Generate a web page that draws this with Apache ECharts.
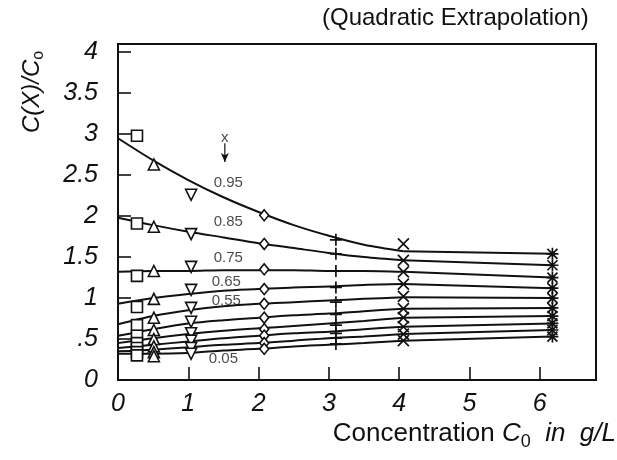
<!DOCTYPE html>
<html><head><meta charset="utf-8">
<script src="https://cdn.jsdelivr.net/npm/echarts@6/dist/echarts.min.js"></script>
<style>html,body{margin:0;padding:0;background:#fff}#c{width:617px;height:460px}</style>
</head><body><div id="c"></div>
<script>
// Curve labels (x values)
const curveNames = ['0.95','0.85','0.75','0.65','0.55','0.45','0.35','0.25','0.15','0.05'];
// Quadratic fitted curves read at these concentrations (0 .. 4.06)
const fitC = [0, 0.5, 1, 1.5, 2, 2.5, 3, 3.5, 4.06];
const fit095 = [2.95, 2.68, 2.44, 2.23, 2.05, 1.89, 1.76, 1.65, 1.57];
const fit085 = [1.98, 1.89, 1.81, 1.74, 1.67, 1.61, 1.55, 1.50, 1.46];
const fit075 = [1.32, 1.33, 1.33, 1.34, 1.34, 1.34, 1.33, 1.33, 1.32];
const fit065 = [0.93, 1.00, 1.05, 1.09, 1.11, 1.13, 1.14, 1.16, 1.17];
const fit055 = [0.68, 0.78, 0.85, 0.90, 0.93, 0.95, 0.97, 0.99, 1.01];
const fit045 = [0.54, 0.62, 0.69, 0.73, 0.76, 0.79, 0.81, 0.84, 0.87];
const fit035 = [0.45, 0.51, 0.56, 0.60, 0.63, 0.66, 0.69, 0.72, 0.76];
const fit025 = [0.39, 0.43, 0.47, 0.51, 0.54, 0.57, 0.59, 0.62, 0.65];
const fit015 = [0.35, 0.37, 0.40, 0.43, 0.45, 0.48, 0.51, 0.53, 0.56];
const fit005 = [0.32, 0.32, 0.33, 0.36, 0.38, 0.41, 0.43, 0.45, 0.48];
// straight tail segments from C=4.06 to C=6.18
const tailC = [4.06, 6.18];
const tailEnd = [1.54, 1.40, 1.25, 1.12, 1.00, 0.88, 0.78, 0.69, 0.61, 0.53];
// measured points (per marker type), ordered 0.95 ... 0.05
const squareC = 0.27;
const squareV = [2.98, 1.91, 1.27, 0.89, 0.67, 0.54, 0.45, 0.39, 0.34, 0.30];
const triUpC = 0.51;
const triUpV = [2.63, 1.87, 1.33, 0.99, 0.76, 0.61, 0.50, 0.41, 0.34, 0.29];
const triDownC = 1.04;
const triDownV = [2.26, 1.78, 1.38, 1.10, 0.88, 0.71, 0.57, 0.48, 0.39, 0.32];
const diamondC = 2.08;
const diamondV = [2.01, 1.66, 1.35, 1.11, 0.93, 0.76, 0.62, 0.54, 0.45, 0.38];
const plusC = 3.1;
const plusV = [1.71, 1.54, 1.33, 1.13, 0.95, 0.80, 0.67, 0.57, 0.51, 0.44];
const crossC = 4.06;
const crossV = [1.66, 1.46, 1.32, 1.17, 1.02, 0.87, 0.76, 0.65, 0.56, 0.48];
const starC = 6.18;
const starV = [1.54, 1.40, 1.25, 1.12, 1.00, 0.88, 0.78, 0.69, 0.61, 0.53];
// annotation labels
const annoText = ['0.95','0.85','0.75','0.65','0.55','0.05','x'];
const annoC = [1.57, 1.57, 1.57, 1.54, 1.54, 1.5, 1.52];
const annoV = [2.41, 1.93, 1.49, 1.20, 0.96, 0.26, 2.96];
const arrowC = 1.52;
const arrowV = [2.89, 2.66];
// axis ticks
const xTicks = [0, 1, 2, 3, 4, 5, 6];
const yTicks = [0, 0.5, 1, 1.5, 2, 2.5, 3, 3.5, 4];

const fits = [fit095, fit085, fit075, fit065, fit055, fit045, fit035, fit025, fit015, fit005];
const INK = '#111';
const series = [];
fits.forEach((vals, i) => {
  series.push({
    type: 'line', name: 'fit ' + curveNames[i], smooth: 0.3,
    symbol: 'none', lineStyle: {color: INK, width: 2}, silent: true,
    data: fitC.map((c, k) => [c, vals[k]])
  });
  series.push({
    type: 'line', name: 'tail ' + curveNames[i], symbol: 'none', silent: true,
    lineStyle: {color: INK, width: 2},
    data: [[tailC[0], vals[vals.length - 1]], [tailC[1], tailEnd[i]]]
  });
});
function markerSeries(c, vals, symbol, size, rotate, sw) {
  return {
    type: 'scatter', symbol: symbol, symbolSize: size, symbolRotate: rotate || 0,
    itemStyle: {color: '#fff', borderColor: INK, borderWidth: sw || 1.6, opacity: 1},
    data: vals.map(v => [c, v]), z: 5
  };
}
function strokeSeries(c, vals, path, size) {
  return {
    type: 'scatter', symbol: path, symbolSize: size,
    itemStyle: {color: 'none', borderColor: INK, borderWidth: 1.7, opacity: 1},
    data: vals.map(v => [c, v]), z: 5
  };
}
series.push(markerSeries(squareC, squareV, 'rect', 11));
series.push(markerSeries(triUpC, triUpV, 'triangle', 11));
series.push(markerSeries(triDownC, triDownV, 'triangle', 11, 180));
series.push(markerSeries(diamondC, diamondV, 'diamond', [9, 11]));
series.push(strokeSeries(plusC, plusV, 'path://M0,0L0,10M-5,5L5,5', 12));
series.push(strokeSeries(crossC, crossV, 'path://M0,0L10,10M0,10L10,0', 11));
series.push(strokeSeries(starC, starV, 'path://M0,0L10,10M0,10L10,0M5,-1L5,11M-1,5L11,5', 12));
// arrow
series.push({
  type: 'line', symbol: (v, p) => p.dataIndex === 1 ? 'arrow' : 'none', symbolSize: [6, 9],
  symbolRotate: 180, itemStyle: {color: INK}, lineStyle: {color: INK, width: 1.2},
  data: arrowV.map(v => [arrowC, v]), silent: true
});
// annotations
series.push({
  type: 'scatter', symbol: 'circle', symbolSize: 1, silent: true, z: 6,
  itemStyle: {color: 'rgba(0,0,0,0)'},
  data: annoText.map((t, i) => ({value: [annoC[i], annoV[i]], name: t})),
  label: {show: true, position: 'inside', formatter: p => p.name, color: '#1a1a1a',
    fontFamily: 'Liberation Sans', fontSize: 15}
});

const chart = echarts.init(document.getElementById('c'));
chart.setOption({
  animation: false,
  backgroundColor: '#fff',
  grid: {left: 118, right: 21, top: 44, bottom: 80, show: true, borderColor: INK, borderWidth: 2},
  xAxis: {
    type: 'value', min: 0, max: 6.8, interval: 1,
    axisLine: {show: true, lineStyle: {color: INK, width: 2}},
    axisTick: {show: true, inside: true, length: 13, customValues: xTicks, lineStyle: {color: INK, width: 1.6}},
    axisLabel: {customValues: xTicks, margin: 12, fontFamily: 'Liberation Sans', fontStyle: 'italic', fontSize: 25, color: '#111'},
    splitLine: {show: false}
  },
  yAxis: {
    type: 'value', min: 0, max: 4.1, interval: 0.5,
    axisLine: {show: true, lineStyle: {color: INK, width: 2}},
    axisTick: {show: true, inside: true, length: 13, customValues: yTicks, lineStyle: {color: INK, width: 1.6}},
    axisLabel: {customValues: yTicks, margin: 20, fontFamily: 'Liberation Sans', fontStyle: 'italic', fontSize: 25, color: '#111',
      formatter: v => v === 0.5 ? '.5' : String(v)},
    splitLine: {show: false}
  },
  graphic: [
    {type: 'text', left: 322, top: 6, style: {text: '(Quadratic Extrapolation)', fontFamily: 'Liberation Sans', fontSize: 24, fill: '#111'}},
    {type: 'text', x: 32, y: 92, rotation: Math.PI / 2,
      style: {text: '{a|C(X)/C}{s|o}', align: 'center', verticalAlign: 'middle', fill: '#111',
        rich: {a: {fontFamily: 'Liberation Sans', fontStyle: 'italic', fontSize: 24, lineHeight: 30, fill: '#111'},
               s: {fontFamily: 'Liberation Sans', fontSize: 16, lineHeight: 18, verticalAlign: 'bottom', fill: '#111'}}}},
    {type: 'text', right: 1, top: 421,
      style: {text: '{n|Concentration }{i|C}{s|0}{i|  in  g/L}', fill: '#111',
        rich: {n: {fontFamily: 'Liberation Sans', fontSize: 26, lineHeight: 34, fill: '#111'},
               i: {fontFamily: 'Liberation Sans', fontStyle: 'italic', fontSize: 26, lineHeight: 34, fill: '#111'},
               s: {fontFamily: 'Liberation Sans', fontSize: 18, lineHeight: 20, verticalAlign: 'bottom', fill: '#111'}}}}
  ],
  series: series
});
</script></body></html>
